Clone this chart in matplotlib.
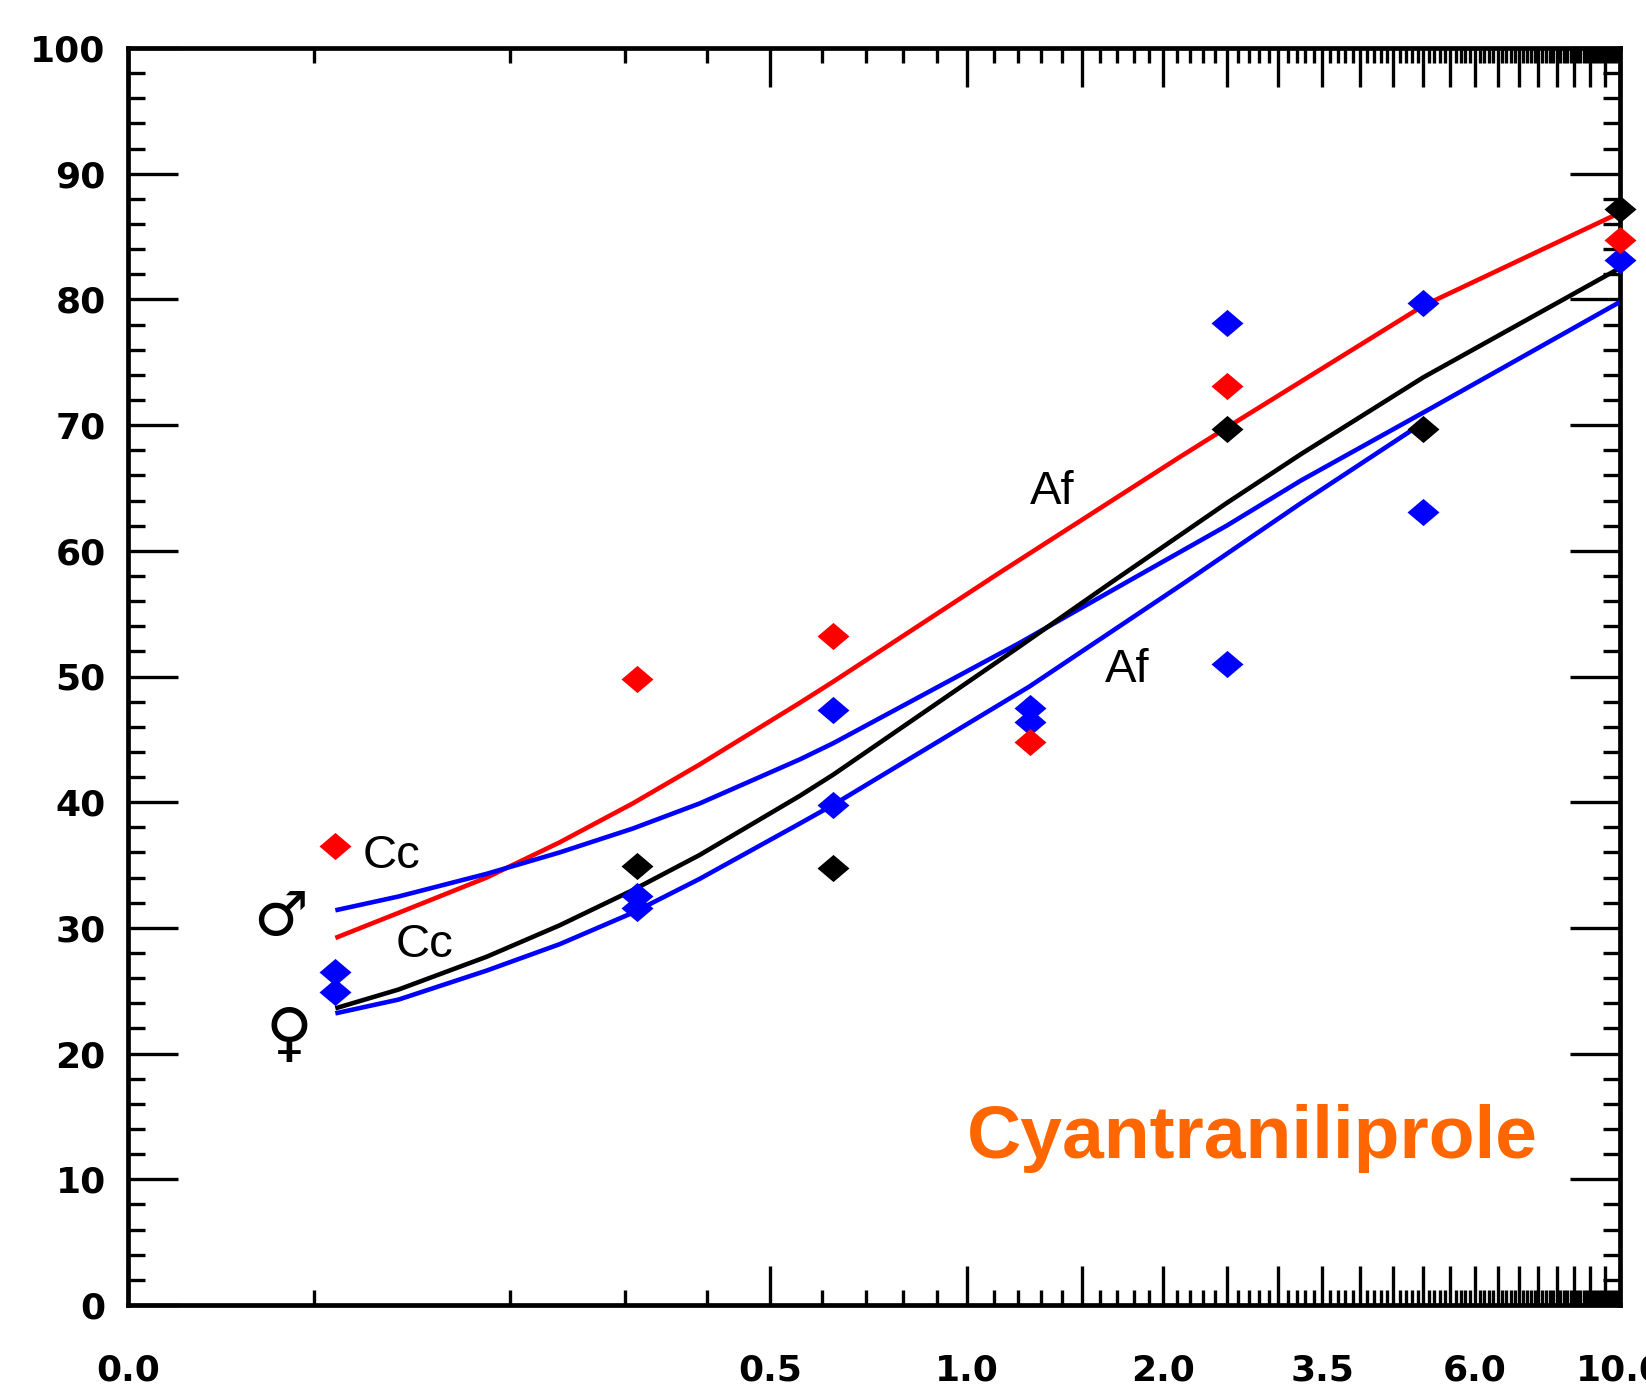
import matplotlib
matplotlib.use("Agg")
import matplotlib.pyplot as plt
from matplotlib.path import Path
from matplotlib.ticker import FixedLocator, FixedFormatter

# ---------------- data ----------------
# observed points (dose, % response)
red_x = [0.108, 0.3125, 0.625, 1.25, 2.5, 10]
red_y = [36.5, 49.8, 53.2, 44.8, 73.1, 84.7]

black_x = [0.3125, 0.625, 2.5, 5, 10]
black_y = [34.9, 34.8, 69.7, 69.7, 87.2]

blue_x = [0.108, 0.108, 0.3125, 0.3125, 0.625, 0.625, 1.25, 1.25, 2.5, 2.5, 5, 5, 10]
blue_y = [26.5, 24.9, 32.5, 31.6, 47.3, 39.8, 47.5, 46.4, 78.1, 51.0, 79.7, 63.1, 83.1]

# fitted curves
red_curve_x = [0.108, 0.135, 0.184, 0.238, 0.308, 0.39, 0.555, 0.625, 1.126, 2.11, 2.5, 5, 10]
red_curve_y = [29.2, 31.2, 34.0, 36.8, 39.9, 43.0, 47.9, 49.6, 58.3, 67.4, 69.8, 79.5, 86.9]

blue_up_curve_x = [0.108, 0.135, 0.184, 0.238, 0.308, 0.39, 0.555, 0.625, 1.198, 1.77, 2.5, 3.25, 5, 10]
blue_up_curve_y = [31.4, 32.5, 34.3, 36.0, 37.9, 39.9, 43.4, 44.7, 52.6, 57.6, 62.0, 65.6, 71.0, 79.8]

black_curve_x = [0.108, 0.135, 0.184, 0.238, 0.308, 0.39, 0.555, 0.625, 1.198, 1.666, 2.5, 3.25, 5, 10]
black_curve_y = [23.6, 25.1, 27.7, 30.2, 33.0, 35.8, 40.5, 42.2, 52.3, 57.5, 63.8, 67.7, 73.8, 82.5]

blue_low_curve_x = [0.108, 0.135, 0.184, 0.238, 0.308, 0.39, 0.555, 0.625, 1.247, 2.16, 3.25, 5]
blue_low_curve_y = [23.2, 24.3, 26.6, 28.7, 31.2, 33.9, 38.3, 39.8, 49.2, 57.5, 63.8, 70.2]

# axis ticks
x_left = 0.052
x_major = [x_left] + [0.5 * i for i in range(1, 21)]
x_minor = [0.1 * i for i in range(1, 101) if i % 5 != 0]
x_label_vals = [x_left, 0.5, 1.0, 2.0, 3.5, 6.0, 10.0]
x_label_txt = ["0.0", "0.5", "1.0", "2.0", "3.5", "6.0", "10.0"]
y_major = list(range(0, 101, 10))
y_minor = list(range(0, 101, 2))

# annotations
annot_txt = ["Cc", "Cc", "Af", "Af"]
annot_x = [0.1318, 0.1477, 1.351, 1.759]
annot_y = [35.75, 28.65, 64.7, 50.5]

# ---------------- figure ----------------
fig = plt.figure(figsize=(16.46, 13.93), dpi=100)
ax = fig.add_axes([128 / 1646, 1 - 1305 / 1393, (1620 - 128) / 1646, (1305 - 48) / 1393])
ax.set_xscale("log")
ax.set_xlim(x_left, 10)
ax.set_ylim(0, 100)

lw = 3.3
for cx, cy, col in [(red_curve_x, red_curve_y, "#ff0000"),
                    (blue_up_curve_x, blue_up_curve_y, "#0000ff"),
                    (black_curve_x, black_curve_y, "black"),
                    (blue_low_curve_x, blue_low_curve_y, "#0000ff")]:
    ax.plot(cx, cy, color=col, lw=lw, zorder=3, solid_capstyle="butt", solid_joinstyle="round")

diamond = Path([(-1, 0), (0, 0.85), (1, 0), (0, -0.85), (-1, 0)],
               [Path.MOVETO, Path.LINETO, Path.LINETO, Path.LINETO, Path.CLOSEPOLY])
ms = 23
ax.plot(blue_x, blue_y, ls="none", marker=diamond, ms=ms, color="#0000ff", mec="none", zorder=5, clip_on=False)
ax.plot(red_x, red_y, ls="none", marker=diamond, ms=ms, color="#ff0000", mec="none", zorder=6, clip_on=False)
ax.plot(black_x, black_y, ls="none", marker=diamond, ms=ms, color="black", mec="none", zorder=7, clip_on=False)

for t, xx, yy in zip(annot_txt, annot_x, annot_y):
    ax.text(xx, yy, t, fontsize=34, family="Liberation Sans", ha="center", va="center", zorder=8)

ax.text(0.0889, 30.75, "\u2642", fontsize=44, family="DejaVu Sans", ha="center", va="center")
ax.text(0.0916, 21.4, "\u2640", fontsize=46, family="DejaVu Sans", ha="center", va="center")

ax.text(2.734, 11.7, "Cyantraniliprole", fontsize=54, family="Liberation Sans",
        fontweight="bold", color="#ff6600", ha="center", va="baseline")

# ticks
ax.xaxis.set_major_locator(FixedLocator(x_major))
ax.xaxis.set_minor_locator(FixedLocator(x_minor))
labels = []
for v in x_major:
    lab = ""
    for lv, lt in zip(x_label_vals, x_label_txt):
        if abs(lv - v) < 1e-9:
            lab = lt
    labels.append(lab)
ax.xaxis.set_major_formatter(FixedFormatter(labels))
ax.xaxis.set_minor_formatter(FixedFormatter([""] * len(x_minor)))
ax.yaxis.set_major_locator(FixedLocator(y_major))
ax.yaxis.set_minor_locator(FixedLocator(y_minor))

ax.tick_params(which="both", direction="in", top=True, right=True, width=2.4, color="black")
ax.tick_params(axis="x", which="major", length=28, pad=35)
ax.tick_params(axis="x", which="minor", length=10.5)
ax.tick_params(axis="y", which="major", length=36, pad=16)
ax.tick_params(axis="y", which="minor", length=12)

for lab in ax.get_xticklabels() + ax.get_yticklabels():
    lab.set_fontfamily("DejaVu Sans")
    lab.set_fontweight("bold")
    lab.set_fontsize(26)

for s in ax.spines.values():
    s.set_linewidth(3.4)

fig.savefig("out.png", dpi=100)
